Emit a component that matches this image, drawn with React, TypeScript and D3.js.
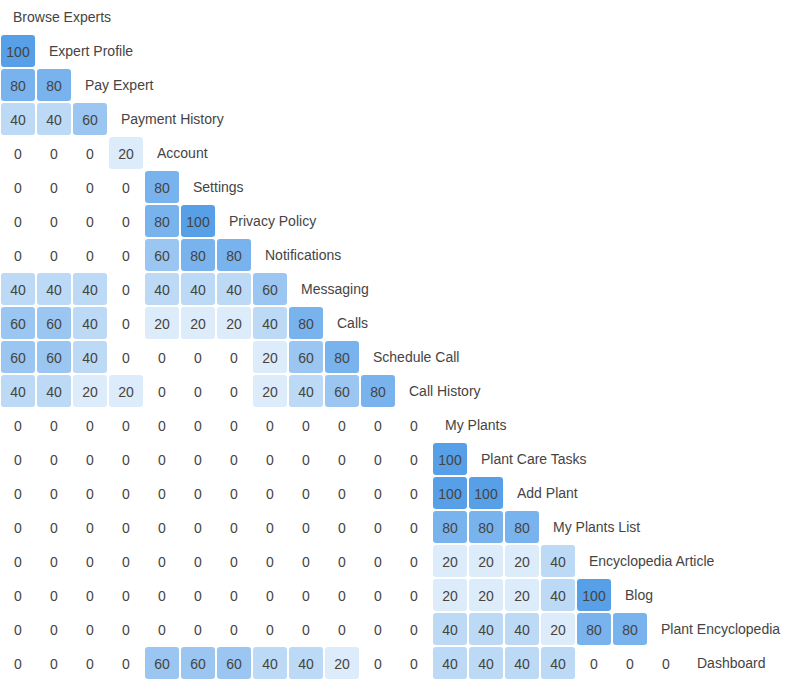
import { useEffect, useRef } from "react";
import * as d3 from "d3";

const pages = [
  "Browse Experts", "Expert Profile", "Pay Expert", "Payment History", "Account",
  "Settings", "Privacy Policy", "Notifications", "Messaging", "Calls",
  "Schedule Call", "Call History", "My Plants", "Plant Care Tasks", "Add Plant",
  "My Plants List", "Encyclopedia Article", "Blog", "Plant Encyclopedia", "Dashboard",
];

// row i holds similarity against pages 0..i-1
const similarity: number[][] = [
  [],
  [100],
  [80, 80],
  [40, 40, 60],
  [0, 0, 0, 20],
  [0, 0, 0, 0, 80],
  [0, 0, 0, 0, 80, 100],
  [0, 0, 0, 0, 60, 80, 80],
  [40, 40, 40, 0, 40, 40, 40, 60],
  [60, 60, 40, 0, 20, 20, 20, 40, 80],
  [60, 60, 40, 0, 0, 0, 0, 20, 60, 80],
  [40, 40, 20, 20, 0, 0, 0, 20, 40, 60, 80],
  [0, 0, 0, 0, 0, 0, 0, 0, 0, 0, 0, 0],
  [0, 0, 0, 0, 0, 0, 0, 0, 0, 0, 0, 0, 100],
  [0, 0, 0, 0, 0, 0, 0, 0, 0, 0, 0, 0, 100, 100],
  [0, 0, 0, 0, 0, 0, 0, 0, 0, 0, 0, 0, 80, 80, 80],
  [0, 0, 0, 0, 0, 0, 0, 0, 0, 0, 0, 0, 20, 20, 20, 40],
  [0, 0, 0, 0, 0, 0, 0, 0, 0, 0, 0, 0, 20, 20, 20, 40, 100],
  [0, 0, 0, 0, 0, 0, 0, 0, 0, 0, 0, 0, 40, 40, 40, 20, 80, 80],
  [0, 0, 0, 0, 60, 60, 60, 40, 40, 20, 0, 0, 40, 40, 40, 40, 0, 0, 0],
];

const width = 790;
const height = 680;

const App = () => {
  const svgRef = useRef<SVGSVGElement>(null);

  useEffect(() => {
    const svg = d3.select(svgRef.current);
    svg.selectAll("*").remove();

    const x = d3.scaleBand<number>()
      .domain(d3.range(pages.length))
      .range([1, 1 + 36 * pages.length]);

    const y = d3.scaleBand<number>()
      .domain(d3.range(pages.length))
      .range([0, 34 * pages.length]);

    const color = d3.scaleLinear<string>()
      .domain([0, 100])
      .range(["#ffffff", "#57a0e8"]);

    const cells = similarity.flatMap((row, r) =>
      row.map((v, c) => ({ r, c, v }))
    );

    const g = svg.append("g")
      .style("font-family", "'Liberation Sans', Arial, sans-serif")
      .style("font-size", "14px");

    g.selectAll("rect")
      .data(cells.filter(d => d.v > 0))
      .enter()
      .append("rect")
      .attr("x", d => x(d.c)!)
      .attr("y", d => y(d.r)! + 1)
      .attr("width", x.bandwidth() - 2)
      .attr("height", y.bandwidth() - 2)
      .attr("rx", 3)
      .attr("fill", d => color(d.v));

    g.selectAll("text.val")
      .data(cells)
      .enter()
      .append("text")
      .attr("class", "val")
      .attr("x", d => x(d.c)! + 17)
      .attr("y", d => y(d.r)! + y.bandwidth() / 2 + 1)
      .attr("text-anchor", "middle")
      .attr("dominant-baseline", "central")
      .attr("fill", "#444")
      .text(d => d.v);

    g.selectAll("text.label")
      .data(pages)
      .enter()
      .append("text")
      .attr("class", "label")
      .attr("x", (d, i) => x(i)! + 12)
      .attr("y", (d, i) => y(i)! + y.bandwidth() / 2)
      .attr("dominant-baseline", "central")
      .attr("fill", "#444")
      .text(d => d);
  }, []);

  return (
    <div style={{ position: "absolute", left: 0, top: 0 }}>
      <svg ref={svgRef} width={width} height={height} style={{ display: "block" }} />
    </div>
  );
};

export default App;
